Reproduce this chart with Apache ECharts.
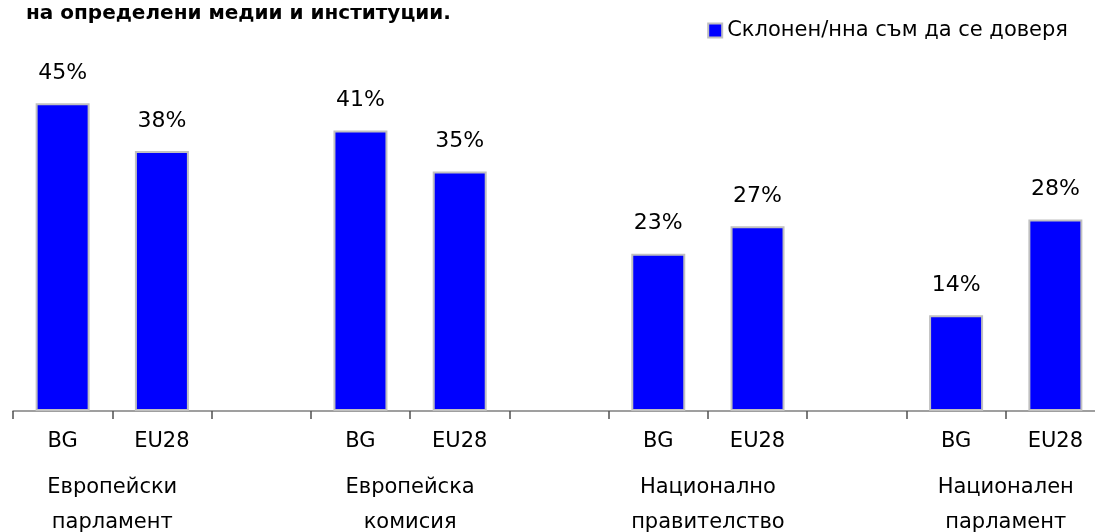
<!DOCTYPE html>
<html>
<head>
<meta charset="utf-8">
<script src="https://cdn.jsdelivr.net/npm/echarts@6/dist/echarts.min.js"></script>
<style>
  html, body { margin: 0; padding: 0; background: #fff; }
  #main { width: 1095px; height: 532px; }
</style>
</head>
<body>
<div id="main"></div>
<script>
// данни
var groups = ["Европейски\nпарламент", "Европейска\nкомисия", "Национално\nправителство", "Национален\nпарламент"];
var countries = ["BG", "EU28"];
var bgValues = [45, 41, 23, 14];
var eu28Values = [38, 35, 27, 28];
var seriesName = "Склонен/нна съм да се доверя";

var font = "DejaVu Sans";

// слотове: BG, EU28, празно, ...
var slots = [];
var values = [];
var groupTicks = [];
for (var i = 0; i < groups.length; i++) {
  if (i > 0) {
    slots.push("");
    values.push(null);
  }
  slots.push(countries[0], countries[1]);
  values.push(bgValues[i], eu28Values[i]);
}
// етикети на групите върху границите между слотовете
for (var j = 0; j <= slots.length; j++) {
  var k = (j - 1) % 3 === 0 ? (j - 1) / 3 : -1;
  groupTicks.push(k >= 0 ? groups[k] : "");
}

var chart = echarts.init(document.getElementById("main"));
var option = {
  animation: false,
  title: {
    text: "на определени медии и институции.",
    left: 21,
    top: -1,
    textStyle: { fontFamily: font, fontSize: 20, fontWeight: "bold", color: "#000" }
  },
  legend: {
    data: [seriesName],
    right: 22,
    top: 15,
    icon: "rect",
    itemWidth: 14,
    itemHeight: 14,
    itemGap: 6,
    itemStyle: { borderColor: "#c0c0c0", borderWidth: 2 },
    textStyle: { fontFamily: font, fontSize: 21, color: "#000" }
  },
  grid: { left: 13, right: -10, top: 69, bottom: 121, containLabel: false, outerBoundsMode: "none" },
  xAxis: [
    {
      type: "category",
      data: slots,
      axisLine: { lineStyle: { color: "#808080", width: 1.5 } },
      axisTick: { show: true, interval: 0, length: 8, lineStyle: { color: "#505050", width: 1.5 } },
      axisLabel: { interval: 0, margin: 20, fontFamily: font, fontSize: 21, color: "#000" }
    },
    {
      type: "category",
      data: groupTicks,
      boundaryGap: false,
      position: "bottom",
      axisLine: { show: false },
      axisTick: { show: false },
      axisLabel: { interval: 0, margin: 59, lineHeight: 35, fontFamily: font, fontSize: 21, color: "#000" }
    }
  ],
  yAxis: {
    type: "value",
    min: 0,
    max: 50,
    show: false
  },
  series: [
    {
      name: seriesName,
      type: "bar",
      data: values,
      barWidth: 54,
      itemStyle: { color: "#0000ff", borderColor: "#c0c0c0", borderWidth: 2 },
      label: {
        show: true,
        position: "top",
        distance: 19,
        formatter: "{c}%",
        fontFamily: font,
        fontSize: 22,
        color: "#000"
      }
    }
  ]
};
chart.setOption(option);
</script>
</body>
</html>
